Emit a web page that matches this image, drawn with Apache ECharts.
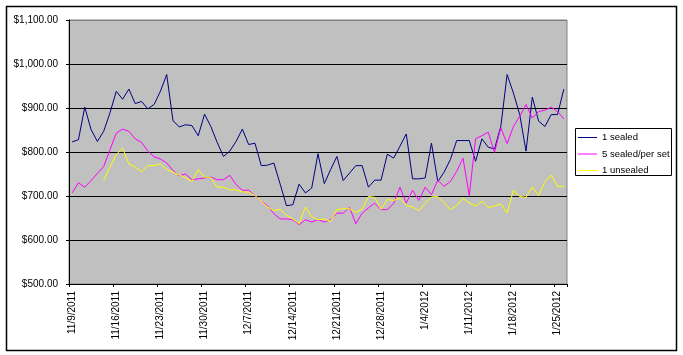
<!DOCTYPE html>
<html>
<head>
<meta charset="utf-8">
<script src="https://cdn.jsdelivr.net/npm/echarts@6/dist/echarts.min.js"></script>
<style>
html,body{margin:0;padding:0;background:#fff;}
#chart{width:683px;height:355px;}
</style>
</head>
<body>
<div id="chart"></div>
<script>
var dates = [
 "11/9/2011","11/10/2011","11/11/2011","11/12/2011","11/13/2011","11/14/2011","11/15/2011","11/16/2011","11/17/2011","11/18/2011",
 "11/19/2011","11/20/2011","11/21/2011","11/22/2011","11/23/2011","11/24/2011","11/25/2011","11/26/2011","11/27/2011","11/28/2011",
 "11/29/2011","11/30/2011","12/1/2011","12/2/2011","12/3/2011","12/4/2011","12/5/2011","12/6/2011","12/7/2011","12/8/2011",
 "12/9/2011","12/10/2011","12/11/2011","12/12/2011","12/13/2011","12/14/2011","12/15/2011","12/16/2011","12/17/2011","12/18/2011",
 "12/19/2011","12/20/2011","12/21/2011","12/22/2011","12/23/2011","12/24/2011","12/25/2011","12/26/2011","12/27/2011","12/28/2011",
 "12/29/2011","12/30/2011","12/31/2011","1/1/2012","1/2/2012","1/3/2012","1/4/2012","1/5/2012","1/6/2012","1/7/2012",
 "1/8/2012","1/9/2012","1/10/2012","1/11/2012","1/12/2012","1/13/2012","1/14/2012","1/15/2012","1/16/2012","1/17/2012",
 "1/18/2012","1/19/2012","1/20/2012","1/21/2012","1/22/2012","1/23/2012","1/24/2012","1/25/2012","1/26/2012"
];
var seriesNames = ["1 sealed", "5 sealed/per set", "1 unsealed"];
var sealed1 = [
 823,828,902,851,824,847,889,938,920,943,
 910,915,898,908,938,976,871,857,862,860,
 837,886,858,822,790,802,824,852,817,820,
 769,770,775,727,678,680,727,707,718,796,
 728,760,790,735,752,769,769,720,736,736,
 795,786,813,841,739,739,741,820,733,754,
 783,826,826,826,779,830,811,807,858,976,
 934,885,802,925,870,858,885,885,943
];
var sealed5 = [
 707,730,720,735,751,767,805,843,852,847,
 830,822,802,789,784,775,758,746,750,737,
 739,741,743,737,737,747,726,713,713,701,
 688,678,660,648,648,646,635,646,641,646,
 641,646,661,661,674,637,661,673,684,669,
 669,683,720,684,713,690,720,703,736,722,
 733,756,786,701,830,837,845,799,855,819,
 858,881,908,877,892,895,902,892,875
];
var unsealed1 = [
 null,null,null,null,null,735,766,794,809,773,
 766,755,769,769,773,760,754,748,741,733,
 760,743,742,720,720,714,714,709,709,701,
 688,675,667,670,656,648,637,675,653,646,
 648,642,669,671,671,663,670,699,697,670,
 692,690,695,678,675,667,683,698,699,685,
 669,678,695,684,677,688,674,677,682,661,
 713,699,697,720,701,733,747,722,722
];
var yMin = 500, yMax = 1100, yStep = 100;
var colors = ["#000080", "#FF00FF", "#FFFF00"];

function money(v) {
  var s = Math.round(v).toString().replace(/\B(?=(\d{3})+(?!\d))/g, ",");
  return "$" + s + ".00";
}

var chart = echarts.init(document.getElementById("chart"), null, {renderer: "canvas"});
var font = "Arial, 'Liberation Sans', sans-serif";
var option = {
  animation: false,
  backgroundColor: "#ffffff",
  textStyle: {fontFamily: font},
  grid: {
    left: 69, right: 116, top: 20, bottom: 71,
    show: true, backgroundColor: "#C0C0C0", borderColor: "#808080", borderWidth: 1,
    containLabel: false
  },
  legend: {
    orient: "vertical",
    left: 578, top: 132,
    padding: 0,
    itemGap: 5.5,
    itemWidth: 19, itemHeight: 1,
    icon: "rect",
    textStyle: {fontFamily: font, fontSize: 9.5, color: "#000", lineHeight: 11},
    data: seriesNames
  },
  xAxis: {
    type: "category",
    data: dates,
    boundaryGap: true,
    axisLine: {lineStyle: {color: "#000", width: 1}},
    axisTick: {show: true, interval: 6, alignWithLabel: false, length: 3, lineStyle: {color: "#000"}},
    axisLabel: {interval: 6, rotate: 90, margin: 7, fontSize: 10, color: "#000", fontFamily: font},
    splitLine: {show: false}
  },
  yAxis: {
    type: "value",
    min: yMin, max: yMax, interval: yStep,
    axisLine: {show: true, lineStyle: {color: "#000", width: 1}},
    axisTick: {show: true, length: 3, lineStyle: {color: "#000"}},
    axisLabel: {formatter: money, fontSize: 10, color: "#000", margin: 11, fontFamily: font},
    splitLine: {show: true, lineStyle: {color: ["#000","#000","#000","#000","#000","#000","#808080"], width: 1}}
  },
  series: [
    {name: seriesNames[0], type: "line", data: sealed1, showSymbol: false, symbol: "none",
     lineStyle: {color: colors[0], width: 1}, itemStyle: {color: colors[0]}},
    {name: seriesNames[1], type: "line", data: sealed5, showSymbol: false, symbol: "none",
     lineStyle: {color: colors[1], width: 1}, itemStyle: {color: colors[1]}},
    {name: seriesNames[2], type: "line", data: unsealed1, showSymbol: false, symbol: "none",
     lineStyle: {color: colors[2], width: 1}, itemStyle: {color: colors[2]}}
  ],
  graphic: [
    {type: "rect", left: 4, top: 4, silent: true, z: -1,
     shape: {x: 0, y: 0, width: 670, height: 344},
     style: {fill: null, stroke: "#000", lineWidth: 1.5}},
    {type: "rect", left: 575, top: 128, silent: true,
     shape: {x: 0, y: 0, width: 96, height: 47},
     style: {fill: "#fff", stroke: "#000", lineWidth: 1}, z: -1}
  ]
};
chart.setOption(option);
</script>
</body>
</html>
